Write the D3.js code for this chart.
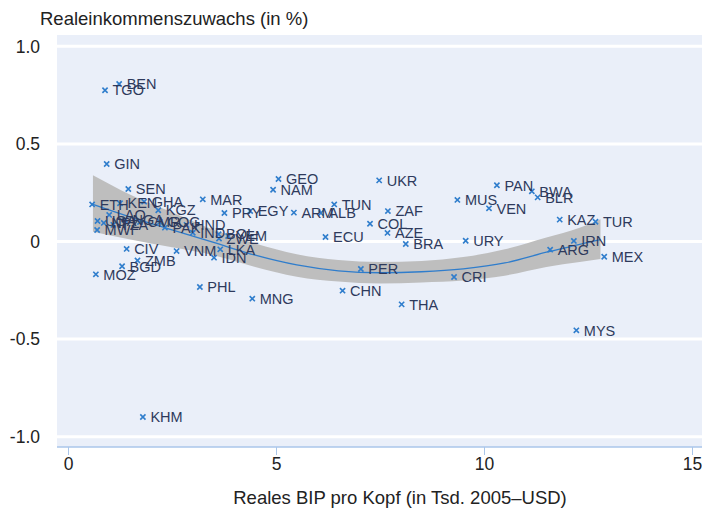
<!DOCTYPE html>
<html>
<head>
<meta charset="utf-8">
<script src="https://cdn.jsdelivr.net/npm/d3@7"></script>
<style>
  body { margin: 0; background: #fff; }
  text { font-family: "Liberation Sans", Arial, sans-serif; }
</style>
</head>
<body>
<svg id="chart" width="702" height="511"></svg>
<script>
// country codes, real GDP per capita (thousand 2005 USD), real income growth
const codes = ['TGO','BEN','GIN','SEN','ETH','KEN','GHA','KGZ','MAR','PRY','EGY','HND','PAK','IND',
  'BOL','ZWE','YEM','LKA','IDN','VNM','CIV','ZMB','BGD','MOZ','PHL','MNG','MWI','KHM',
  'UGA','NPL','TZA','LAO','NGA','CMR','COG',
  'GEO','NAM','ARM','ALB','TUN','UKR','ZAF','COL','AZE','ECU','BRA','URY','MUS','PER','CHN','THA','CRI',
  'PAN','BWA','BLR','VEN','KAZ','TUR','IRN','ARG','MEX','MYS'];
const gdp = [0.89,1.23,0.93,1.45,0.58,1.25,1.83,2.17,3.24,3.76,4.38,2.85,2.33,3.0,
  3.62,3.63,3.85,3.66,3.51,2.61,1.41,1.67,1.30,0.67,3.17,4.43,0.70,1.80,
  0.71,0.86,1.09,0.99,1.37,1.73,2.21,
  5.06,4.93,5.43,6.08,6.40,7.48,7.69,7.26,7.68,6.19,8.12,9.56,9.36,7.04,6.60,8.02,9.28,
  10.31,11.15,11.29,10.12,11.82,12.68,12.16,11.59,12.89,12.22];
const growth = [0.775,0.807,0.397,0.269,0.19,0.196,0.204,0.16,0.216,0.146,0.156,0.085,0.071,0.045,
  0.037,0.015,0.028,-0.04,-0.083,-0.049,-0.038,-0.097,-0.127,-0.168,-0.233,-0.293,0.059,-0.899,
  0.105,0.095,0.085,0.136,0.11,0.10,0.10,
  0.32,0.265,0.148,0.146,0.19,0.313,0.156,0.091,0.044,0.023,-0.013,0.004,0.213,-0.141,-0.252,-0.322,-0.182,
  0.288,0.257,0.226,0.17,0.112,0.101,0.003,-0.042,-0.078,-0.455];

// smoothed fit with confidence band
const fitX  = [0.6, 1.5, 2.5, 3.5, 4.5, 5.5, 6.5, 7.5, 8.5, 9.5, 10.5, 11.5, 12.3, 12.8];
const fitY  = [0.19, 0.125, 0.06, -0.005, -0.07, -0.12, -0.15, -0.16, -0.155, -0.14, -0.11, -0.055, -0.015, 0.01];
const fitHi = [0.34, 0.24, 0.15, 0.06, -0.01, -0.065, -0.095, -0.105, -0.10, -0.08, -0.04, 0.02, 0.07, 0.114];
const fitLo = [0.05, 0.01, -0.03, -0.07, -0.13, -0.18, -0.205, -0.215, -0.21, -0.20, -0.175, -0.13, -0.105, -0.09];

const xTicks = [0, 5, 10, 15];
const yTicks = [1, 0.5, 0, -0.5, -1];
const yTickLabels = ['1.0', '0.5', '0', '-0.5', '-1.0'];

const svg = d3.select('#chart');
const plot = { left: 57, right: 702, top: 35, bottom: 447 };

const x = d3.scaleLinear().domain([0, 15]).range([68, 692]);
const y = d3.scaleLinear().domain([-1, 1]).range([436.7, 46.3]);

// background
svg.append('rect')
  .attr('x', plot.left).attr('y', plot.top)
  .attr('width', plot.right - plot.left).attr('height', plot.bottom - plot.top)
  .attr('fill', '#eaeff9');

// white gridlines
svg.selectAll('.grid').data(yTicks).enter().append('line')
  .attr('class', 'grid')
  .attr('x1', plot.left).attr('x2', plot.right)
  .attr('y1', d => y(d)).attr('y2', d => y(d))
  .attr('stroke', '#fff').attr('stroke-width', 3);

// y tick labels
svg.selectAll('.ylab').data(yTicks).enter().append('text')
  .attr('class', 'ylab')
  .attr('x', 40).attr('y', d => y(d)).attr('dy', '0.36em')
  .attr('text-anchor', 'end')
  .attr('font-size', 17.5).attr('fill', '#222')
  .text((d, i) => yTickLabels[i]);

// x axis
const xAxis = d3.axisBottom(x).tickValues(xTicks).tickSize(8).tickSizeOuter(0).tickFormat(d3.format('d'));
const gx = svg.append('g').attr('transform', `translate(0,${plot.bottom})`).call(xAxis);
gx.select('.domain').attr('d', `M${plot.left},0H${plot.right}`).attr('stroke', '#aac6ea').attr('stroke-width', 1.5);
gx.selectAll('.tick line').attr('stroke', '#aac6ea');
gx.selectAll('.tick text').attr('font-size', 17.5).attr('fill', '#222').attr('y', 11)
  .attr('font-family', '"Liberation Sans", Arial, sans-serif');

// confidence band
const band = fitX.map((v, i) => ({ x: v, lo: fitLo[i], hi: fitHi[i], f: fitY[i] }));
svg.append('path').datum(band)
  .attr('fill', '#bebebe')
  .attr('d', d3.area().x(d => x(d.x)).y0(d => y(d.lo)).y1(d => y(d.hi)).curve(d3.curveMonotoneX));

svg.append('path').datum(band)
  .attr('fill', 'none').attr('stroke', '#2f7dcc').attr('stroke-width', 1.3)
  .attr('d', d3.line().x(d => x(d.x)).y(d => y(d.f)).curve(d3.curveMonotoneX));

// points
const pts = codes.map((c, i) => ({ c: c, x: gdp[i], y: growth[i] }));
const s = 2.6;
svg.selectAll('.pt').data(pts).enter().append('path')
  .attr('class', 'pt')
  .attr('transform', d => `translate(${x(d.x)},${y(d.y)})`)
  .attr('d', `M${-s},${-s}L${s},${s}M${-s},${s}L${s},${-s}`)
  .attr('stroke', '#2f7dcc').attr('stroke-width', 1.6);

svg.selectAll('.lab').data(pts).enter().append('text')
  .attr('class', 'lab')
  .attr('x', d => x(d.x) + 7.5).attr('y', d => y(d.y)).attr('dy', '0.36em')
  .attr('font-size', 14.5).attr('fill', '#2e3a5c')
  .text(d => d.c);

// axis titles
svg.append('text')
  .attr('x', 40).attr('y', 25)
  .attr('font-size', 18.5).attr('fill', '#222')
  .text('Realeinkommenszuwachs (in %)');

svg.append('text')
  .attr('x', 400).attr('y', 504)
  .attr('text-anchor', 'middle')
  .attr('font-size', 18.5).attr('fill', '#222')
  .text('Reales BIP pro Kopf (in Tsd. 2005–USD)');
</script>
</body>
</html>
